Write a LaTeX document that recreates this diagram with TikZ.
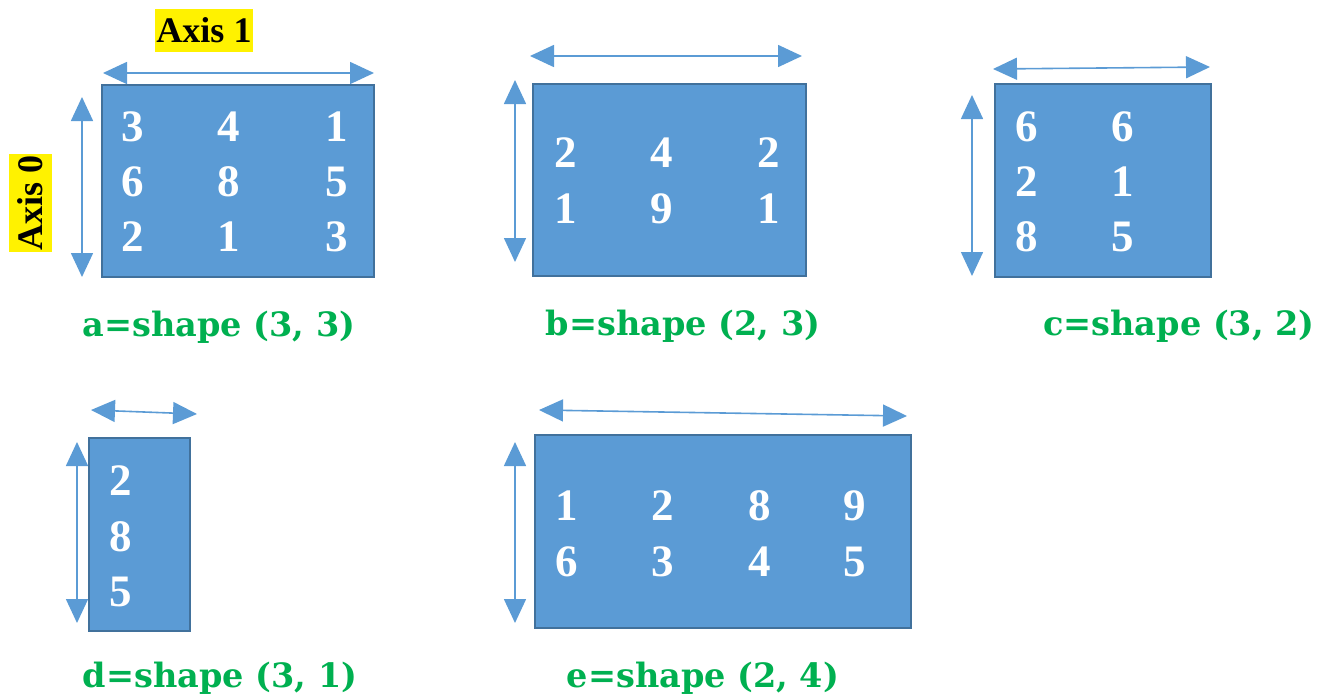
\documentclass[tikz,border=0pt]{standalone}
\usepackage{fontspec}
\setmainfont{Liberation Serif}
\newfontfamily\labelfont{DejaVu Serif}
\usetikzlibrary{arrows.meta}
\definecolor{cellfill}{HTML}{5B9BD5}
\definecolor{cellline}{HTML}{41719C}
\definecolor{shapegreen}{HTML}{00B050}

\begin{document}
\begin{tikzpicture}[x=1pt,y=-1pt,
  dim/.style={draw=cellfill, line width=1.6pt,
    arrows={Triangle[length=24pt,width=22pt]-Triangle[length=24pt,width=22pt]}},
  arraybox/.style={draw=cellline, fill=cellfill, line width=2pt, inner sep=0pt, anchor=north west},
  num/.style={text=white, inner sep=0pt, font=\fontsize{45}{45}\selectfont\bfseries},
  caption/.style={text=shapegreen, inner sep=0pt, font=\labelfont\fontsize{33.5}{33.5}\selectfont\bfseries},
  axislabel/.style={fill=yellow, inner sep=0pt, font=\fontsize{36}{36}\selectfont\bfseries}]

\useasboundingbox (0,0) rectangle (1320,696);

% axis labels
\node[axislabel, minimum width=98pt, minimum height=43pt] (ax1) at (204,30) {Axis 1};
\node[axislabel, minimum width=98pt, minimum height=43pt, rotate=90] (ax0) at (30.5,202.5) {Axis 0};

% array a: shape (3, 3)
\node[arraybox, minimum width=272pt, minimum height=192pt] (A) at (101,84) {};
\foreach \v [count=\i] in {3,4,1,6,8,5,2,1,3} {
  \pgfmathsetmacro{\c}{mod(\i-1,3)}
  \pgfmathsetmacro{\r}{int((\i-1)/3)}
  \pgfmathsetmacro{\xx}{{133,229,337}[\c]}
  \node[num] (A-\i) at (\xx,127+55*\r) {\v};
}
\coordinate (A-l) at (103,73);  \coordinate (A-r) at (374,73);
\coordinate (A-t) at (82,97);   \coordinate (A-b) at (82,277);
\draw[dim] (A-l) -- (A-r);
\draw[dim] (A-t) -- (A-b);
\node[caption] (capA) at (219,327) {a=shape (3, 3)};

% array b: shape (2, 3)
\node[arraybox, minimum width=273pt, minimum height=192pt] (B) at (532,83) {};
\foreach \v [count=\i] in {2,4,2,1,9,1} {
  \pgfmathsetmacro{\c}{mod(\i-1,3)}
  \pgfmathsetmacro{\r}{int((\i-1)/3)}
  \pgfmathsetmacro{\xx}{{566,662,769}[\c]}
  \node[num] (B-\i) at (\xx,153+56*\r) {\v};
}
\coordinate (B-l) at (530,56);  \coordinate (B-r) at (802,56);
\coordinate (B-t) at (515,80);  \coordinate (B-b) at (515,262);
\draw[dim] (B-l) -- (B-r);
\draw[dim] (B-t) -- (B-b);
\node[caption] (capB) at (683,326) {b=shape (2, 3)};

% array c: shape (3, 2)
\node[arraybox, minimum width=216pt, minimum height=193pt] (C) at (994,83) {};
\foreach \v [count=\i] in {6,6,2,1,8,5} {
  \pgfmathsetmacro{\c}{mod(\i-1,2)}
  \pgfmathsetmacro{\r}{int((\i-1)/2)}
  \pgfmathsetmacro{\xx}{{1027,1123}[\c]}
  \node[num] (C-\i) at (\xx,127+55*\r) {\v};
}
\coordinate (C-l) at (993,69);  \coordinate (C-r) at (1210,67);
\coordinate (C-t) at (972,95);  \coordinate (C-b) at (972,276);
\draw[dim] (C-l) -- (C-r);
\draw[dim] (C-t) -- (C-b);
\node[caption] (capC) at (1179,326) {c=shape (3, 2)};

% array d: shape (3, 1)
\node[arraybox, minimum width=101pt, minimum height=193pt] (D) at (88,437) {};
\foreach \v [count=\i] in {2,8,5} {
  \node[num] (D-\i) at (121,481+55.5*\i-55.5) {\v};
}
\coordinate (D-l) at (91,410);  \coordinate (D-r) at (197,414);
\coordinate (D-t) at (77,442);  \coordinate (D-b) at (77,623);
\draw[dim] (D-l) -- (D-r);
\draw[dim] (D-t) -- (D-b);
\node[caption] (capD) at (220,678) {d=shape (3, 1)};

% array e: shape (2, 4)
\node[arraybox, minimum width=376pt, minimum height=193pt] (E) at (534,434) {};
\foreach \v [count=\i] in {1,2,8,9,6,3,4,5} {
  \pgfmathsetmacro{\c}{mod(\i-1,4)}
  \pgfmathsetmacro{\r}{int((\i-1)/4)}
  \pgfmathsetmacro{\xx}{{567,663,760,855}[\c]}
  \node[num] (E-\i) at (\xx,506+56*\r) {\v};
}
\coordinate (E-l) at (539,410); \coordinate (E-r) at (907,416);
\coordinate (E-t) at (515,442); \coordinate (E-b) at (515,623);
\draw[dim] (E-l) -- (E-r);
\draw[dim] (E-t) -- (E-b);
\node[caption] (capE) at (703,678) {e=shape (2, 4)};
\end{tikzpicture}
\end{document}
